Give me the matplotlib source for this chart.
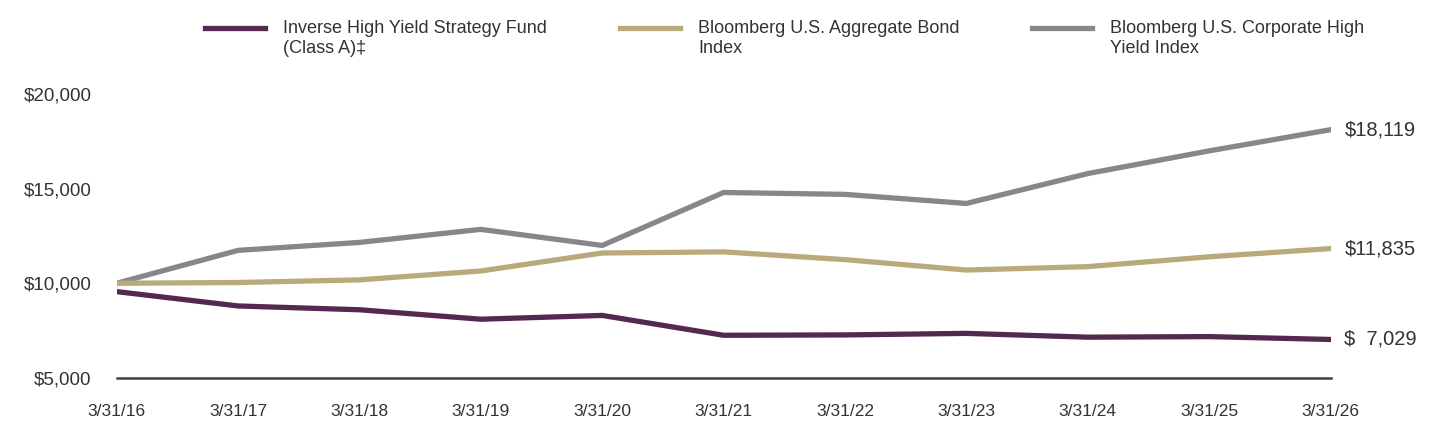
import matplotlib.pyplot as plt
from matplotlib.lines import Line2D

plt.rcParams['font.family'] = ['Liberation Sans', 'DejaVu Sans']

dates = ['3/31/16', '3/31/17', '3/31/18', '3/31/19', '3/31/20', '3/31/21',
         '3/31/22', '3/31/23', '3/31/24', '3/31/25', '3/31/26']
fund = [9560, 8800, 8600, 8100, 8300, 7250, 7270, 7350, 7150, 7180, 7029]
agg = [10000, 10040, 10180, 10650, 11600, 11660, 11250, 10700, 10880, 11400, 11835]
hy = [10000, 11740, 12160, 12850, 12000, 14800, 14700, 14220, 15800, 17000, 18119]

names = ['Inverse High Yield Strategy Fund\n(Class A)\u2021',
         'Bloomberg U.S. Aggregate Bond\nIndex',
         'Bloomberg U.S. Corporate High\nYield Index']
colors = ['#54284F', '#B9AA7C', '#87878B']
end_labels = ['$  7,029', '$11,835', '$18,119']
yticks = [5000, 10000, 15000, 20000]

fig = plt.figure(figsize=(14.4, 4.44), dpi=100)
ax = fig.add_axes([0.081, 0.149, 0.843, 0.639])

x = list(range(len(dates)))
for vals, c, lab in zip([hy, agg, fund], [colors[2], colors[1], colors[0]],
                        [end_labels[2], end_labels[1], end_labels[0]]):
    ax.plot(x, vals, color=c, lw=3.8, solid_joinstyle='miter')
    ax.annotate(lab, (x[-1], vals[-1]), xytext=(10, 0), textcoords='offset points',
                va='center', ha='left', fontsize=14.5, color='#333333',
                annotation_clip=False)

ax.set_xlim(0, len(dates) - 1)
ax.set_ylim(5000, 20000)
ax.set_xticks(x)
ax.set_xticklabels(dates)
ax.set_yticks(yticks)
ax.set_yticklabels(['${:,}'.format(v) for v in yticks])
ax.tick_params(axis='both', length=0, labelcolor='#333333')
ax.tick_params(axis='x', pad=19, labelsize=12.5)
ax.tick_params(axis='y', pad=18, labelsize=13.5)
for s in ['top', 'right', 'left']:
    ax.spines[s].set_visible(False)
ax.spines['bottom'].set_color('#404040')
ax.spines['bottom'].set_linewidth(1.8)

# legend drawn by hand, three columns
leg_x = [205, 620, 1032]
for lx, c, n in zip(leg_x, colors, names):
    fig.add_artist(Line2D([lx / 1440, (lx + 60) / 1440], [1 - 28 / 444] * 2,
                          color=c, lw=3.8, transform=fig.transFigure))
    fig.text((lx + 78) / 1440, 1 - 20 / 444, n, ha='left', va='top',
             fontsize=13, color='#333333', linespacing=1.2)

fig.savefig('out.png', dpi=100)
